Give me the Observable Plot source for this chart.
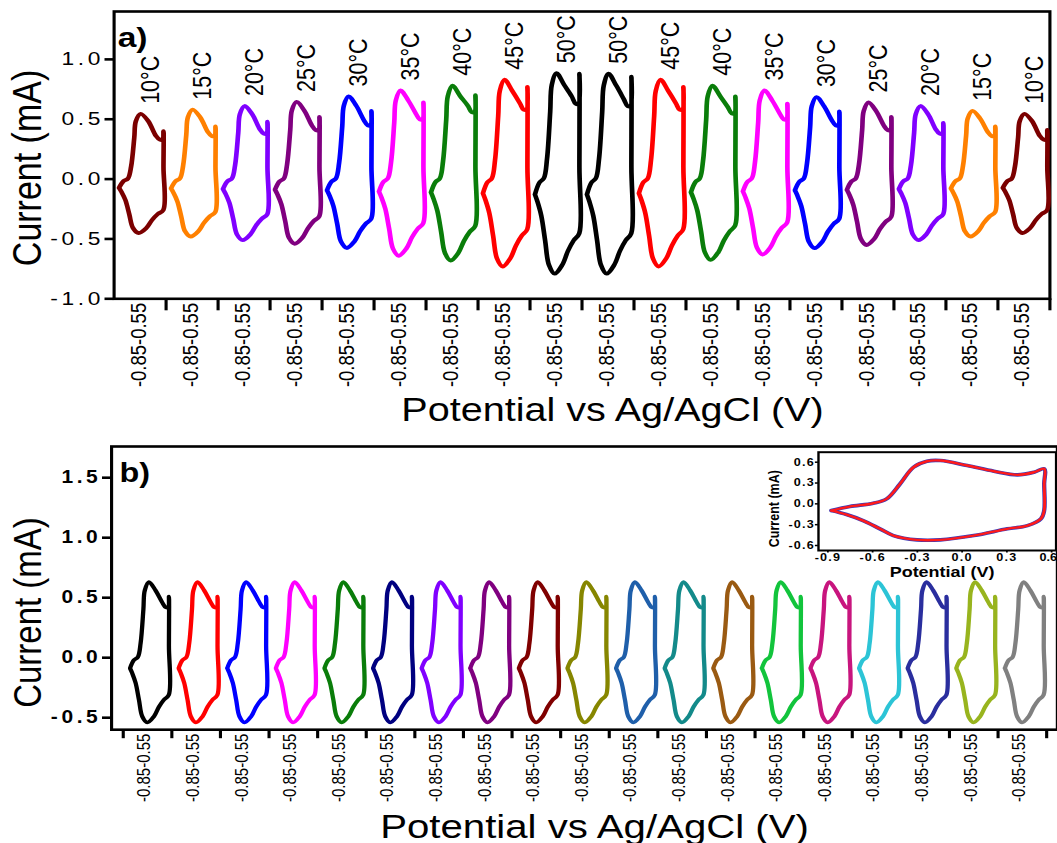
<!DOCTYPE html>
<html>
<head>
<meta charset="utf-8">
<script src="https://cdn.jsdelivr.net/npm/d3@7"></script>
<script src="https://cdn.jsdelivr.net/npm/@observablehq/plot@0.6"></script>
<style>
  html, body { margin: 0; padding: 0; background: #fff; overflow: hidden; }
  #stage { position: relative; width: 881px; height: 843px; transform: scaleX(1.19977); transform-origin: 0 0; }
  #stage > svg { position: absolute; overflow: visible; }
  #panelA g[aria-label="y-axis tick label"] text { letter-spacing: 3px; }
  #panelB g[aria-label="y-axis tick label"] text { letter-spacing: 3px; }
  #inset g[aria-label$="tick label"] text { letter-spacing: 1px; }
</style>
</head>
<body>
<div id="stage"></div>
<script>
// ---------------- data ----------------
// Reference CV loop shape (read from panel b loops): potential (V) and current (mA)
const cvWindow = [-0.85, 0.55];
const cvPotential = [-0.85, -0.71, -0.57, -0.47, -0.37, -0.32, -0.17, 0.07, 0.31, 0.43, 0.52, 0.55, 0.55, 0.545, 0.37, 0.19, 0.01, -0.23, -0.41, -0.53, -0.65, -0.77, -0.85];
const cvCurrent   = [-0.088, -0.02, 0.005, 0.12, 0.40, 0.56, 0.63, 0.56, 0.46, 0.42, 0.42, 0.51, 0.10, -0.31, -0.35, -0.41, -0.49, -0.54, -0.49, -0.35, -0.21, -0.13, -0.088];
// which feature of each loop a template point follows: a = anodic peak, d = dip, v = vertex, c = cathodic, n = none
const cvPart      = ["c", "c", "a", "a", "a", "a", "a", "a", "d", "d", "d", "v", "n", "c", "c", "c", "c", "c", "c", "c", "c", "c", "c"];
const cvRef = {a: 0.63, d: 0.42, v: 0.51, c: -0.54};

// Panel a: temperature series
const tempsA  = [10, 15, 20, 25, 30, 35, 40, 45, 50, 50, 45, 40, 35, 30, 25, 20, 15, 10];
const ipaA    = [0.545, 0.58, 0.61, 0.645, 0.69, 0.74, 0.78, 0.83, 0.885, 0.88, 0.83, 0.78, 0.74, 0.685, 0.64, 0.61, 0.57, 0.545];
const dipA    = [0.33, 0.36, 0.38, 0.41, 0.45, 0.50, 0.56, 0.58, 0.63, 0.61, 0.58, 0.55, 0.50, 0.45, 0.41, 0.38, 0.36, 0.33];
const vertexA = [0.40, 0.44, 0.48, 0.52, 0.57, 0.64, 0.70, 0.77, 0.88, 0.855, 0.77, 0.69, 0.63, 0.565, 0.52, 0.47, 0.44, 0.41];
const ipcA    = [-0.45, -0.48, -0.51, -0.54, -0.575, -0.64, -0.68, -0.73, -0.79, -0.79, -0.73, -0.675, -0.63, -0.577, -0.55, -0.51, -0.48, -0.45];
const colorsA = ["#7b0000", "#ff8000", "#8000ff", "#800080", "#0000ff", "#ff00ff", "#0a7d0a", "#ff0000", "#000000",
                 "#000000", "#ff0000", "#0a7d0a", "#ff00ff", "#0000ff", "#800080", "#8000ff", "#ff8000", "#7b0000"];
const tickLabelsA = ["-0.85-0.55","-0.85-0.55","-0.85-0.55","-0.85-0.55","-0.85-0.55","-0.85-0.55","-0.85-0.55","-0.85-0.55","-0.85-0.55",
                     "-0.85-0.55","-0.85-0.55","-0.85-0.55","-0.85-0.55","-0.85-0.55","-0.85-0.55","-0.85-0.55","-0.85-0.55","-0.85-0.55"];
const yTicksA = [-1.0, -0.5, 0.0, 0.5, 1.0];

// Panel b: repeated cycles
const ipaB    = [0.63, 0.63, 0.63, 0.63, 0.63, 0.63, 0.63, 0.63, 0.63, 0.63, 0.63, 0.63, 0.63, 0.63, 0.63, 0.63, 0.63, 0.63, 0.63];
const dipB    = [0.42, 0.42, 0.42, 0.42, 0.42, 0.42, 0.42, 0.42, 0.42, 0.42, 0.42, 0.42, 0.42, 0.42, 0.42, 0.42, 0.42, 0.42, 0.42];
const vertexB = [0.51, 0.51, 0.51, 0.51, 0.51, 0.51, 0.51, 0.51, 0.51, 0.51, 0.51, 0.51, 0.51, 0.51, 0.51, 0.51, 0.51, 0.51, 0.51];
const ipcB    = [-0.54, -0.54, -0.54, -0.54, -0.54, -0.54, -0.54, -0.54, -0.54, -0.54, -0.54, -0.54, -0.54, -0.54, -0.54, -0.54, -0.54, -0.54, -0.54];
const colorsB = ["#000000", "#ff0000", "#0000ff", "#ff00ff", "#0a7d0a", "#000080", "#8000ff", "#800080", "#800000", "#868600",
                 "#1f5faa", "#138a8a", "#9a5a12", "#12c43c", "#c8157e", "#2cc4d6", "#2a2e9e", "#98b41e", "#808080"];
const tickLabelsB = ["-0.85-0.55","-0.85-0.55","-0.85-0.55","-0.85-0.55","-0.85-0.55","-0.85-0.55","-0.85-0.55","-0.85-0.55","-0.85-0.55","-0.85-0.55",
                     "-0.85-0.55","-0.85-0.55","-0.85-0.55","-0.85-0.55","-0.85-0.55","-0.85-0.55","-0.85-0.55","-0.85-0.55","-0.85-0.55"];
const yTicksB = [-0.5, 0.0, 0.5, 1.0, 1.5];

// Inset (single CV, V vs mA)
const insetPotential = [-0.877, -0.753, -0.596, -0.506, -0.416, -0.326, -0.236, -0.146, 0.034, 0.213, 0.371, 0.483, 0.55, 0.55, 0.55, 0.528, 0.438, 0.303, 0.079, -0.146, -0.303, -0.461, -0.551, -0.664, -0.775, -0.877];
const insetCurrent   = [-0.097, -0.039, 0.009, 0.072, 0.288, 0.527, 0.614, 0.624, 0.552, 0.47, 0.418, 0.456, 0.504, 0.288, -0.097, -0.216, -0.313, -0.36, -0.457, -0.519, -0.519, -0.457, -0.36, -0.241, -0.154, -0.097];
const insetXTicks = [-0.9, -0.6, -0.3, 0.0, 0.3, 0.6];
const insetYTicks = [-0.6, -0.3, 0.0, 0.3, 0.6];

const xTitle = "Potential vs Ag/AgCl (V)";
const yTitle = "Current (mA)";

// ---------------- build ----------------
const FONT = '"Liberation Sans", Arial, Helvetica, sans-serif';
const fmt1 = d => d.toFixed(1);

function loopRows(n, ipa, dip, vtx, ipc, f0, fw) {
  const loops = [];
  for (let i = 0; i < n; i++) {
    const k = {a: ipa[i] / cvRef.a, d: dip[i] / cvRef.d, v: vtx[i] / cvRef.v, c: ipc[i] / cvRef.c, n: 1};
    loops.push(cvPotential.map((V, j) => ({
      x: i + f0 + fw * (V - cvWindow[0]) / (cvWindow[1] - cvWindow[0]),
      y: cvCurrent[j] * k[cvPart[j]]
    })));
  }
  return loops;
}

const stage = document.getElementById("stage");

// ----- panel a -----
const loopsA = loopRows(tempsA.length, ipaA, dipA, vertexA, ipcA, 0.095, 0.855);
const plotA = Plot.plot({
  width: 881, height: 440,
  marginLeft: 94.6, marginRight: 6.4, marginTop: 11, marginBottom: 141.7,
  x: {domain: [0, tempsA.length]},
  y: {domain: [-1, 1.4]},
  style: {fontFamily: FONT, background: "transparent", color: "black"},
  marks: [
    Plot.frame({stroke: "black", strokeWidth: 2.6}),
    Plot.axisY({ticks: yTicksA, tickFormat: fmt1, tickSize: 7.5, tickPadding: 1, fontSize: 19, strokeWidth: 2.6, label: null}),
    Plot.axisX({ticks: d3.range(1, tempsA.length + 1), tickFormat: () => "", tickSize: 12, strokeWidth: 2.6, label: null}),
    ...loopsA.map((rows, i) => Plot.line(rows, {x: "x", y: "y", stroke: colorsA[i], strokeWidth: 3.9, curve: "catmull-rom", strokeLinejoin: "round", strokeLinecap: "round"})),
    Plot.text(tempsA.map((t, i) => ({i, t, top: ipaA[i]})), {
      x: d => d.i + 0.70, y: "top", text: d => `${d.t}°C`, rotate: -90,
      textAnchor: "start", lineAnchor: "middle", dy: -10, fontSize: 21.5
    }),
    Plot.text(tickLabelsA, {x: (d, i) => i + 0.47, frameAnchor: "bottom", text: d => d, rotate: -90,
      textAnchor: "end", lineAnchor: "middle", dy: 4, fontSize: 18.5}),
    Plot.text([xTitle], {frameAnchor: "bottom", text: d => d, dx: 25.4, dy: 121.7, lineAnchor: "bottom", fontSize: 33}),
    Plot.text([yTitle], {frameAnchor: "left", text: d => d, dx: -71.7, dy: 12.8, rotate: -90, textAnchor: "middle", lineAnchor: "middle", fontSize: 34}),
    Plot.text(["a)"], {frameAnchor: "top-left", text: d => d, dx: 3, dy: 35, textAnchor: "start", lineAnchor: "bottom", fontSize: 28, fontWeight: "bold"})
  ]
});
plotA.id = "panelA";
plotA.style.left = "0px";
plotA.style.top = "0px";
stage.appendChild(plotA);

// ----- panel b -----
const loopsB = loopRows(colorsB.length, ipaB, dipB, vertexB, ipcB, 0.14, 0.80);
const plotB = Plot.plot({
  width: 881, height: 403,
  marginLeft: 92.5, marginRight: 0.2, marginTop: 6, marginBottom: 113.8,
  x: {domain: [-0.24, 19.22]},
  y: {domain: [-0.6, 1.76]},
  style: {fontFamily: FONT, background: "transparent", color: "black"},
  marks: [
    Plot.frame({stroke: "black", strokeWidth: 2.6}),
    Plot.axisY({ticks: yTicksB, tickFormat: fmt1, tickSize: 7.5, tickPadding: 1, fontSize: 17.5, fontWeight: "bold", strokeWidth: 2.6, label: null}),
    Plot.axisX({ticks: d3.range(0, colorsB.length + 1), tickFormat: () => "", tickSize: 9, strokeWidth: 2.6, label: null}),
    ...loopsB.map((rows, i) => Plot.line(rows, {x: "x", y: "y", stroke: colorsB[i], strokeWidth: 3.6, curve: "catmull-rom", strokeLinejoin: "round", strokeLinecap: "round"})),
    Plot.text(tickLabelsB, {x: (d, i) => i + 0.44, frameAnchor: "bottom", text: d => d, rotate: -90,
      textAnchor: "end", lineAnchor: "middle", dy: 4, fontSize: 15}),
    Plot.text([xTitle], {frameAnchor: "bottom", text: d => d, dx: 8.4, dy: 107.8, lineAnchor: "bottom", fontSize: 33.5}),
    Plot.text([yTitle], {frameAnchor: "left", text: d => d, dx: -69.6, dy: 24.4, rotate: -90, textAnchor: "middle", lineAnchor: "middle", fontSize: 33}),
    Plot.text(["b)"], {frameAnchor: "top-left", text: d => d, dx: 6.5, dy: 35, textAnchor: "start", lineAnchor: "bottom", fontSize: 27, fontWeight: "bold"})
  ]
});
plotB.id = "panelB";
plotB.style.left = "0px";
plotB.style.top = "440px";
stage.appendChild(plotB);

// ----- inset -----
const insetRows = insetPotential.map((V, j) => ({x: V, y: insetCurrent[j]}));
const lastInsetTick = insetXTicks[insetXTicks.length - 1];
const inset = Plot.plot({
  width: 251, height: 140,
  marginLeft: 51.7, marginRight: 1.25, marginTop: 5.7, marginBottom: 36,
  x: {domain: [-0.963, 0.63]},
  y: {domain: [-0.672, 0.744]},
  style: {fontFamily: FONT, fontWeight: "bold", background: "transparent", color: "black"},
  marks: [
    Plot.frame({fill: "white", stroke: "black", strokeWidth: 2}),
    Plot.axisX({ticks: insetXTicks, tickFormat: d => d === lastInsetTick ? "" : fmt1(d), tickSize: 2.5, tickPadding: 1, fontSize: 10.5, strokeWidth: 1.5, label: null}),
    Plot.text([lastInsetTick], {x: d => d, frameAnchor: "bottom", text: fmt1, textAnchor: "end", lineAnchor: "top", dx: 4.5, dy: 3.5, fontSize: 10.5, fontWeight: "bold"}),
    Plot.axisY({ticks: insetYTicks, tickFormat: fmt1, tickSize: 2.5, tickPadding: 0.5, fontSize: 10.5, strokeWidth: 1.5, label: null}),
    Plot.line(insetRows, {x: "x", y: "y", stroke: "#3b3bb8", strokeWidth: 3.6, curve: "catmull-rom", strokeLinejoin: "round"}),
    Plot.line(insetRows, {x: "x", y: "y", stroke: "#ff1a1a", strokeWidth: 2.4, curve: "catmull-rom", strokeLinejoin: "round"}),
    Plot.text(["Potential (V)"], {frameAnchor: "bottom", text: d => d, dx: 4, dy: 26.7, lineAnchor: "bottom", fontSize: 15, fontWeight: "bold"}),
    Plot.text([yTitle], {frameAnchor: "left", text: d => d, dx: -37.3, dy: 7.3, rotate: -90, textAnchor: "middle", lineAnchor: "middle", fontSize: 12.5, fontWeight: "bold"})
  ]
});
inset.id = "inset";
inset.style.left = "630px";
inset.style.top = "446px";
stage.appendChild(inset);
</script>
</body>
</html>
